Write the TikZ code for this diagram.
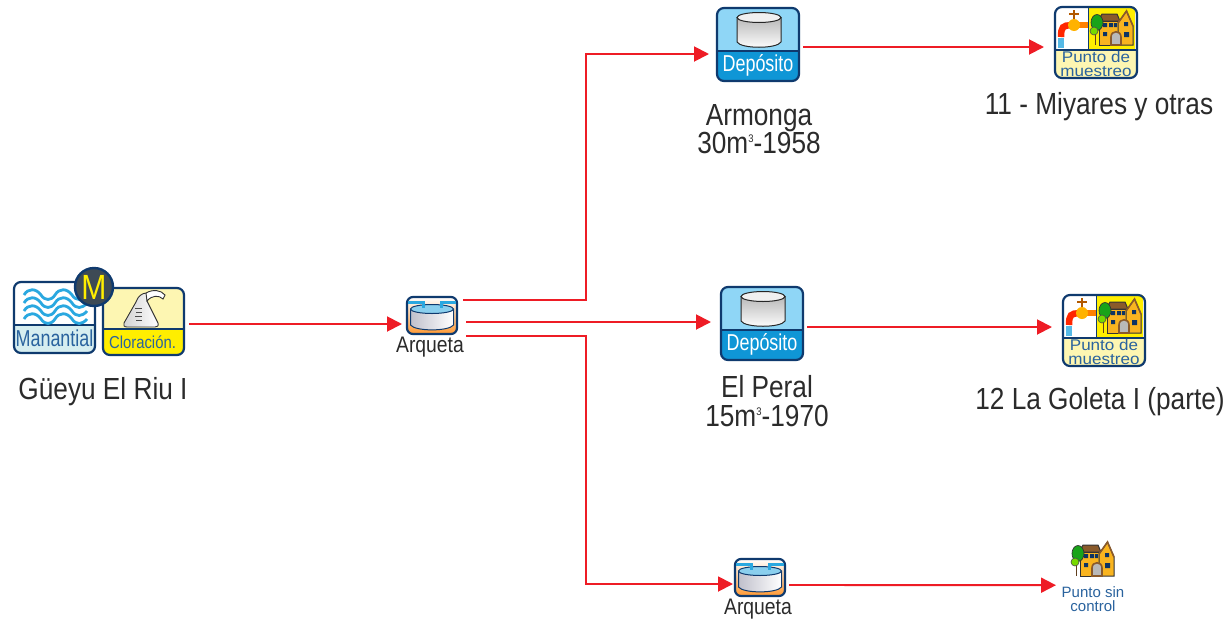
\documentclass[tikz,border=0pt]{standalone}
\usepackage{fontspec}
\setmainfont{Liberation Sans}
\newfontfamily\nsans[FakeStretch=0.86]{Liberation Sans}
\newfontfamily\tsans[FakeStretch=0.78]{Liberation Sans}
\newfontfamily\wsans[FakeStretch=1.1]{Liberation Sans}
\usetikzlibrary{arrows.meta}
\definecolor{navy}{HTML}{0F3A6E}
\definecolor{redline}{HTML}{EE1C25}
\definecolor{labelgray}{HTML}{2B2B2B}
\definecolor{skyhead}{HTML}{8FD6F6}
\definecolor{skyfoot}{HTML}{0F96D6}
\definecolor{wave}{HTML}{2AA8E0}
\definecolor{textblue}{HTML}{2A639E}
\definecolor{houseorange}{HTML}{F9B41F}
\definecolor{roofbrown}{HTML}{8A5A2B}
\definecolor{palecream}{HTML}{FDF6B2}
\definecolor{signyellow}{HTML}{FFEE00}
\definecolor{paleaqua}{HTML}{D6EEF0}
\definecolor{badgefill}{HTML}{3D4A55}
\tikzset{
  conn/.style={draw=redline,line width=1.9pt,-{Triangle[length=15pt,width=15pt]}},
  iconbox/.style={draw=navy,line width=2.2pt,rounded corners=7pt,inner sep=0pt,outer sep=0pt,anchor=north west},
  biglabel/.style={text=labelgray,font=\nsans\fontsize{30.5}{30}\selectfont,inner sep=0pt},
  smalllabel/.style={text=labelgray,font=\nsans\fontsize{22.5}{22}\selectfont,inner sep=0pt},
  darkline/.style={draw=black!85,line width=1pt},
}
\newcommand{\iconnode}[5]{\node[iconbox,minimum width=#4pt,minimum height=#5pt] (#1) at (#2,#3) {};}
\newcommand{\panel}[7]{%
  \begin{scope}
    \clip[rounded corners=7pt] (#1,#2) rectangle ++(#3,#4);
    \fill[#6] (#1,#2) rectangle ++(#3,#5);
    \fill[#7] (#1,#2+#5) rectangle (#1+#3,#2+#4);
    \draw[navy,line width=2pt] (#1,#2+#5) -- (#1+#3,#2+#5);
  \end{scope}}
\newcommand{\depositoicon}[3]{%
  \panel{#2}{#3}{82}{73}{43}{skyhead}{skyfoot}
  \iconnode{#1}{#2}{#3}{82}{73}
  \begin{scope}[shift={(#2,#3)}]
    \path[darkline,top color=gray!55,bottom color=white]
      (20,9.5) -- (20,34) .. controls (24,41) and (60,41) .. (64,34) -- (64,9.5) -- cycle;
    \draw[darkline,fill=gray!12] (42,9.5) ellipse (22 and 5);
    \node[text=white,font=\tsans\fontsize{23}{23}\selectfont,inner sep=0pt] at (41,57) {Depósito};
  \end{scope}}
\newcommand{\arquetaicon}[3]{%
  \begin{scope}
    \clip[rounded corners=6pt] (#2,#3) rectangle ++(50,37);
    \shade[top color=white,bottom color=orange!80] (#2,#3) rectangle ++(50,37);
  \end{scope}
  \node[iconbox,rounded corners=6pt,minimum width=50pt,minimum height=37pt] (#1) at (#2,#3) {};
  \begin{scope}[shift={(#2,#3)}]
    \path[draw=navy,line width=1pt,left color=blue!10!gray!45,right color=white]
      (3.5,12) -- (3.5,28) .. controls (8,34.5) and (42,34.5) .. (46.5,28) -- (46.5,12) -- cycle;
    \draw[navy,line width=1pt,fill=wave!55] (25,12) ellipse (21.5 and 4.5);
    \draw[wave,line width=3pt] (1,5.5) -- (16,5.5) -- (16,11);
    \draw[wave,line width=3pt] (49,5.5) -- (34,5.5) -- (34,11);
  \end{scope}}
\newcommand{\houseart}[2]{%
  \begin{scope}[shift={(#1,#2)}]
    \path[draw=black!80,line width=1pt,fill=houseorange] (9,12) -- (28,12) -- (28,36) -- (9,36) -- cycle;
    \path[draw=black!80,line width=1pt,fill=roofbrown] (8,12) -- (12,5) -- (27,5) -- (30,12) -- cycle;
    \path[draw=black!80,line width=1pt,fill=houseorange] (28,36) -- (28,14) -- (36.5,2) -- (43,17) -- (43,36) -- cycle;
    \draw[roofbrown,line width=1.6pt] (28,14) -- (36.5,2) -- (43,17);
    \fill[navy!90!black] (13,14) rectangle ++(4,4) (19,14) rectangle ++(4,4) (24,14) rectangle ++(3,4) (13,23) rectangle ++(4,4) (34,13) rectangle ++(4,4) (34,23) rectangle ++(5,5);
    \path[draw=roofbrown,line width=1.6pt,fill=gray!55] (21,36) -- (21,28) .. controls (21,21) and (31,21) .. (31,28) -- (31,36) -- cycle;
    \draw[roofbrown!70!black,line width=1.6pt] (5.5,20) -- (5.5,36);
    \draw[black!80,line width=.7pt,fill=green!60!black!90] (7,13.5) ellipse (6 and 8);
    \draw[black!70,line width=.6pt,fill=green!45!yellow!85!black] (4,22) circle (4);
  \end{scope}}
\newcommand{\puntoicon}[3]{%
  \panel{#2}{#3}{82}{71}{43}{white}{palecream}
  \begin{scope}
    \clip (#2+33,#3) rectangle (#2+82,#3+42);
    \fill[signyellow] (#2+33,#3) rectangle (#2+80,#3+42);
  \end{scope}
  \houseart{#2+35}{#3+2}
  \begin{scope}[shift={(#2,#3)}]
    \draw[navy,line width=1pt] (33,0) -- (33,43);
    \draw[orange!70!black,line width=2.5pt] (19,3) -- (19,16) (14,7) -- (24,7);
    \draw[orange,line width=6pt] (19,18) -- (33,18);
    \draw[red!70!orange,line width=6.5pt] (16,18.5) .. controls (8,18) and (6,20) .. (6,30);
    \fill[orange!60!yellow] (19,18) circle (6);
    \draw[wave!80,line width=6pt] (6,31) -- (6,41);
    \node[text=textblue,font=\wsans\fontsize{15.5}{14}\selectfont,align=center,inner sep=0pt] at (41,56.5) {Punto de\\muestreo};
  \end{scope}
  \iconnode{#1}{#2}{#3}{82}{71}}
\begin{document}
\begin{tikzpicture}[x=1pt,y=-1pt]
\useasboundingbox (0,0) rectangle (1227,619);
\fill[white] (0,0) rectangle (1227,619);

% Manantial + Cloracion
\panel{14}{282}{81}{71}{43}{white}{paleaqua}
\begin{scope}[shift={(14,282)}]
  \foreach \yy in {13,21,29,37}{
    \draw[wave,line width=2.8pt] (10,\yy) .. controls (14,\yy-7) and (22,\yy-7) .. (27,\yy)
      .. controls (31,\yy+6) and (37,\yy+6) .. (41,\yy)
      .. controls (45,\yy-7) and (53,\yy-7) .. (58,\yy)
      .. controls (62,\yy+6) and (68,\yy+6) .. (73,\yy);
  }
  \node[text=textblue,font=\tsans\fontsize{23}{23}\selectfont,inner sep=0pt] at (40.5,56) {Manantial};
\end{scope}
\iconnode{man}{14}{282}{81}{71}
\panel{103}{288}{81}{67}{41}{palecream}{signyellow}
\begin{scope}[shift={(103,288)}]
  \path[draw=black!80,line width=.9pt,left color=gray!35,right color=white]
    (33,14) .. controls (35,8) and (39,5) .. (44,5) -- (44,13) -- (55,35) .. controls (56,38) and (54,39) .. (52,39) -- (24,39) .. controls (21,39) and (20,37) .. (21,35) -- cycle;
  \draw[black!80,line width=.9pt,fill=white] (43,5) .. controls (50,1) and (58,2) .. (62,7) -- (60,11) .. controls (56,7) and (49,7) .. (44,13) -- cycle;
  \draw[black!70,line width=.6pt] (32,20) -- (39,20) (33,24) -- (39,24) (32,28) -- (39,28) (33,32) -- (39,32);
  \node[text=textblue,font=\nsans\fontsize{17.3}{17}\selectfont,inner sep=0pt] at (39.5,54) {Cloración.};
\end{scope}
\iconnode{clo}{103}{288}{81}{67}
\node[draw=navy,line width=2.4pt,fill=badgefill,circle,minimum size=38pt,inner sep=0pt,text=signyellow,font=\nsans\fontsize{35}{35}\selectfont] (mbadge) at (94,287) {M};
\node[biglabel] (lblsrc) at (103,392) {Güeyu El Riu I};

% Arquetas
\arquetaicon{arq1}{407}{297}
\node[smalllabel] (lblarq1) at (430,347) {Arqueta};
\arquetaicon{arq2}{735}{559}
\node[smalllabel] (lblarq2) at (758,609) {Arqueta};

% Depositos
\depositoicon{dep1}{717}{8}
\node[biglabel] (lblarm) at (759,118) {Armonga};
\node[biglabel] (lblarmb) at (759,143) {30m\raisebox{11pt}{\fontsize{11}{11}\selectfont 3}-1958};
\depositoicon{dep2}{721}{287}
\node[biglabel] (lblper) at (767,387) {El Peral};
\node[biglabel] (lblperb) at (767,416) {15m\raisebox{11pt}{\fontsize{11}{11}\selectfont 3}-1970};

% Puntos
\puntoicon{pun1}{1055}{7}
\node[biglabel] (lblpun1) at (1099,107) {11 - Miyares y otras};
\puntoicon{pun2}{1063}{295}
\node[biglabel] (lblpun2) at (1100,402) {12 La Goleta I (parte)};

% Punto sin control
\houseart{1071}{540}
\node[anchor=north west,inner sep=0pt,minimum width=43pt,minimum height=37pt] (psc) at (1071,540) {};
\node[text=textblue,font=\fontsize{15}{13.5}\selectfont,align=center,inner sep=0pt] (lblpsc) at (1093,599) {Punto sin\\control};

% Connectors
\coordinate (busT) at (586,54);
\coordinate (busB) at (586,584);
\draw[conn] ([xshift=5pt,yshift=-2.5pt]clo.east) -- ([xshift=-5pt,yshift=-8.5pt]arq1.west);
\draw[conn] ([xshift=6pt,yshift=15.5pt]arq1.east) -| (busT) -- ([xshift=-8pt,yshift=-9.5pt]dep1.west);
\draw[conn] ([xshift=9pt,yshift=-6.5pt]arq1.east) -- ([xshift=-10pt,yshift=-6.5pt]arq1.east -| dep2.west);
\draw[conn] ([xshift=9pt,yshift=-20.5pt]arq1.east) -| (busB) -- ([xshift=-2pt,yshift=-6.5pt]arq2.west);
\draw[conn] ([xshift=4pt,yshift=-2.5pt]dep1.east) -- ([xshift=-11pt,yshift=-4.5pt]pun1.west);
\draw[conn] ([xshift=4pt,yshift=-3.5pt]dep2.east) -- ([xshift=-11pt,yshift=3.5pt]pun2.west);
\draw[conn] ([xshift=4pt,yshift=-7.5pt]arq2.east) -- ([xshift=-15pt,yshift=-26.5pt]psc.west);
\end{tikzpicture}
\end{document}
